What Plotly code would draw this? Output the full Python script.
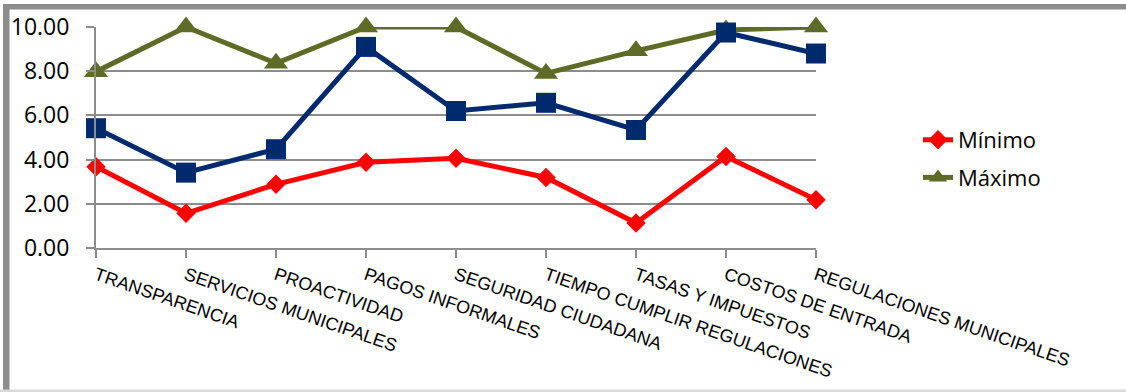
import plotly.graph_objects as go

categories = [
    "TRANSPARENCIA",
    "SERVICIOS MUNICIPALES",
    "PROACTIVIDAD",
    "PAGOS INFORMALES",
    "SEGURIDAD CIUDADANA",
    "TIEMPO CUMPLIR REGULACIONES",
    "TASAS Y IMPUESTOS",
    "COSTOS DE ENTRADA",
    "REGULACIONES MUNICIPALES",
]
minimo = [3.68, 1.57, 2.88, 3.88, 4.06, 3.19, 1.13, 4.14, 2.18]
maximo = [7.98, 10.00, 8.36, 10.00, 10.00, 7.90, 8.92, 9.86, 10.00]
promedio = [5.42, 3.41, 4.47, 9.10, 6.20, 6.57, 5.34, 9.75, 8.80]
y_ticks = [0, 2, 4, 6, 8, 10]

RED = "#ff0000"
OLIVE = "#5e6b26"
NAVY = "#002a6e"
GRID = "#8c8c8c"

W, H = 1126, 392
ML, MR, MT, MB = 96, 310, 27, 144
PW, PH = W - ML - MR, H - MT - MB


def px_x(px):
    return (px - ML) / PW


def px_y(py):
    return (H - MB - py) / PH


fig = go.Figure()
fig.add_trace(go.Scatter(
    x=categories, y=minimo, name="Mínimo", mode="lines+markers",
    line=dict(color=RED, width=5),
    marker=dict(symbol="diamond", size=15, color=RED),
    cliponaxis=False, legendgroup="a",
))
fig.add_trace(go.Scatter(
    x=categories, y=maximo, name="Máximo", mode="lines+markers",
    line=dict(color=OLIVE, width=5),
    marker=dict(symbol="triangle-up", size=21, color=OLIVE),
    cliponaxis=False, legendgroup="b",
))
fig.add_trace(go.Scatter(
    x=categories, y=promedio, name="Promedio", mode="lines+markers",
    line=dict(color=NAVY, width=5),
    marker=dict(symbol="square", size=20, color=NAVY),
    cliponaxis=False, showlegend=False,
))

# chart frame: heavy grey top and left edges, light bottom edge
frame = [
    dict(x0=px_x(3), x1=px_x(W), y0=px_y(4), y1=px_y(9.5), color="#8c8c8c"),
    dict(x0=px_x(3), x1=px_x(9.5), y0=px_y(4), y1=px_y(H), color="#8c8c8c"),
    dict(x0=px_x(0), x1=px_x(W), y0=px_y(389.5), y1=px_y(H), color="#d9d9d9"),
]
for f in frame:
    fig.add_shape(type="rect", xref="paper", yref="paper",
                  x0=f["x0"], x1=f["x1"], y0=f["y0"], y1=f["y1"],
                  fillcolor=f["color"], line=dict(width=0), layer="below")

fig.update_layout(
    width=W, height=H,
    margin=dict(l=ML, r=MR, t=MT, b=MB, autoexpand=False),
    paper_bgcolor="white", plot_bgcolor="white",
    showlegend=True,
    legend=dict(
        x=px_x(918), y=px_y(119), xanchor="left", yanchor="top",
        font=dict(family="Open Sans", size=22, color="black"),
        tracegroupgap=6, bgcolor="rgba(0,0,0,0)",
    ),
    xaxis=dict(
        type="category", range=[0, len(categories) - 1],
        automargin=False,
        showgrid=False, showline=True, linecolor=GRID, linewidth=2,
        ticks="outside", ticklen=8, tickcolor=GRID, tickwidth=2,
        tickangle=19,
        tickfont=dict(family="Liberation Sans", size=18, color="black"),
    ),
    yaxis=dict(
        range=[0, 10], tickvals=y_ticks,
        ticktext=[f"{v:.2f}" for v in y_ticks],
        automargin=False,
        showgrid=True, gridcolor=GRID, gridwidth=2,
        showline=True, linecolor=GRID, linewidth=2,
        ticks="outside", ticklen=8, tickcolor=GRID, tickwidth=2,
        ticklabelstandoff=12,
        zeroline=False,
        tickfont=dict(family="Open Sans", size=23, color="black"),
    ),
)

fig.write_html("out.html")
